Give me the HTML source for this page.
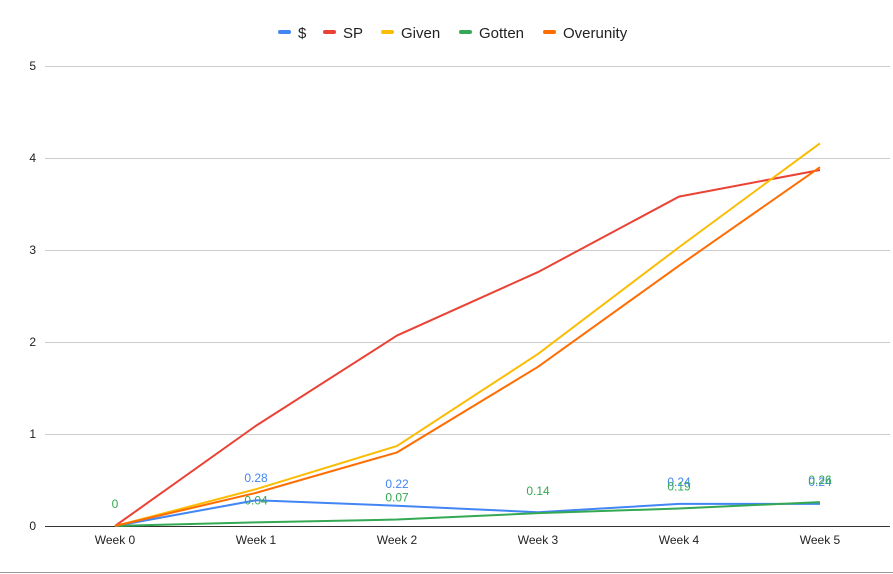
<!DOCTYPE html>
<html><head><meta charset="utf-8"><style>
body{margin:0;background:#fff;font-family:"Liberation Sans",Arial,sans-serif}
svg{display:block}
</style></head><body>
<svg width="893" height="574">
<g id="legend"></g>
<g id="grid"></g>
<g id="series"></g>
<g id="labels"></g>
<line x1="0" y1="572.5" x2="893" y2="572.5" stroke="#999"/>
</svg>
<script>
const categories=["Week 0","Week 1","Week 2","Week 3","Week 4","Week 5"];
const yTicks=[0,1,2,3,4,5];
const seriesNames=["$","SP","Given","Gotten","Overunity"];
const seriesColors=["#4285f4","#ea4335","#fbbc04","#34a853","#ff6d01"];
const dollarVals=[0,0.28,0.22,0.15,0.24,0.24];
const spVals=[0,1.09,2.07,2.76,3.58,3.87];
const givenVals=[0,0.40,0.87,1.87,3.03,4.16];
const gottenVals=[0,0.04,0.07,0.14,0.19,0.26];
const overVals=[0,0.36,0.80,1.73,2.83,3.90];
const dollarLabels=["","0.28","0.22","","0.24","0.24"];
const gottenLabels=["0","0.04","0.07","0.14","0.19","0.26"];
const NS="http://www.w3.org/2000/svg";
const x=i=>115+i*141;
const y=v=>526-v*92;
function mk(t,a,p){const e=document.createElementNS(NS,t);for(const k in a)e.setAttribute(k,a[k]);p.appendChild(e);return e;}
const grid=document.getElementById('grid');
yTicks.forEach(t=>{
  const l=mk('line',{x1:45,x2:890,y1:y(t)+0.5,y2:y(t)+0.5,stroke:t===0?'#333':'#ccc'},grid);
  
  
  const tx=mk('text',{x:36,y:y(t)+4,'text-anchor':'end','font-size':12,fill:'#222'},grid);
  tx.textContent=t;
  
  
});
categories.forEach((c,i)=>{
  const tx=mk('text',{x:x(i),y:544,'text-anchor':'middle','font-size':12,fill:'#222'},grid);
  tx.textContent=c;
  
  
});
const allVals=[dollarVals,spVals,givenVals,gottenVals,overVals];
const ser=document.getElementById('series');
allVals.forEach((vals,s)=>{
  const p=mk('polyline',{points:vals.map((v,i)=>x(i)+','+y(v)).join(' '),fill:'none',stroke:seriesColors[s],'stroke-width':2},ser);
  
  
});
const lab=document.getElementById('labels');
dollarLabels.forEach((t,i)=>{ if(!t)return;
  const tx=mk('text',{x:x(i),y:y(dollarVals[i])-18,'text-anchor':'middle','font-size':12,fill:'#4285f4'},lab);
  tx.textContent=t;
  
  
});
gottenLabels.forEach((t,i)=>{
  const tx=mk('text',{x:x(i),y:y(gottenVals[i])-18,'text-anchor':'middle','font-size':12,fill:'#34a853'},lab);
  tx.textContent=t;
  
  
});
const leg=document.getElementById('legend');
const legX=[278,323,381,459,543];
seriesNames.forEach((n,s)=>{
  const g=mk('g',{},leg);
  
  
  mk('rect',{x:legX[s],y:30,width:13,height:4,rx:2,fill:seriesColors[s]},g);
  const t=mk('text',{x:legX[s]+20,y:38,'font-size':15,fill:'#222'},g);
  t.textContent=n;
});
</script>
</body></html>
